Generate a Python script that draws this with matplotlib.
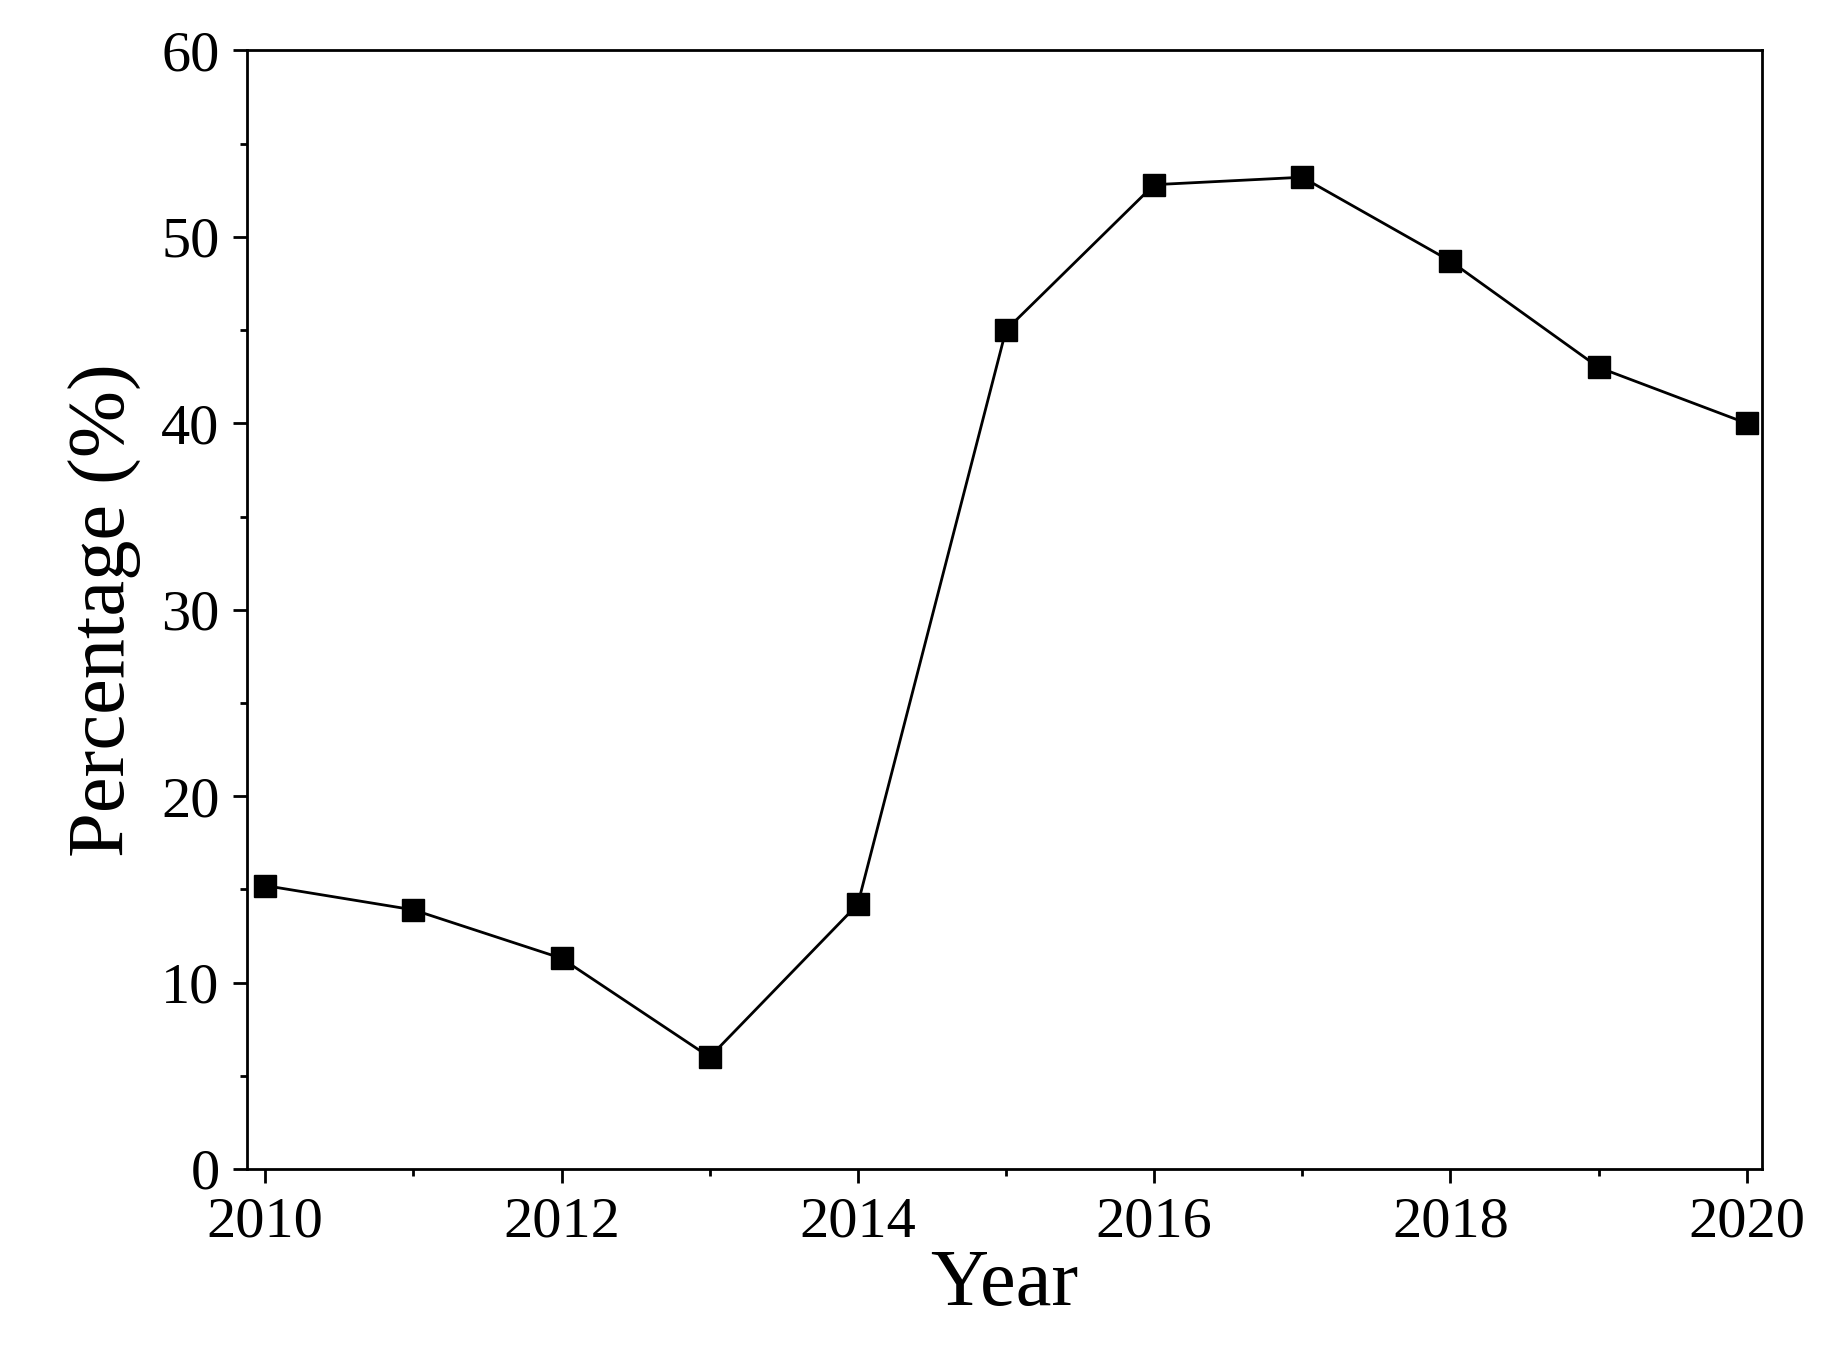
import matplotlib
matplotlib.use("Agg")
import matplotlib.pyplot as plt
from matplotlib.ticker import MultipleLocator

years = [2010, 2011, 2012, 2013, 2014, 2015, 2016, 2017, 2018, 2019, 2020]
percentage = [15.2, 13.9, 11.3, 6.0, 14.2, 45.0, 52.8, 53.2, 48.7, 43.0, 40.0]

plt.rcParams['font.family'] = ['Liberation Serif', 'DejaVu Serif']

fig = plt.figure(figsize=(18.33, 13.64), dpi=100)
ax = fig.add_axes([0.135, 0.143, 0.826, 0.820])
ax.plot(years, percentage, color='black', lw=2, marker='s', markersize=16)

ax.set_xlim(2009.88, 2020.1)
ax.set_ylim(0, 60)
ax.xaxis.set_major_locator(MultipleLocator(2))
ax.xaxis.set_minor_locator(MultipleLocator(1))
ax.yaxis.set_major_locator(MultipleLocator(10))
ax.yaxis.set_minor_locator(MultipleLocator(5))
ax.tick_params(which='major', length=10, width=2, labelsize=42, pad=10)
ax.tick_params(which='minor', length=5, width=2)
for s in ax.spines.values():
    s.set_linewidth(2)

ax.set_xlabel("Year", fontsize=58, labelpad=0)
ax.set_ylabel("Percentage (%)", fontsize=58, labelpad=14)

fig.savefig("out.png", dpi=100)
